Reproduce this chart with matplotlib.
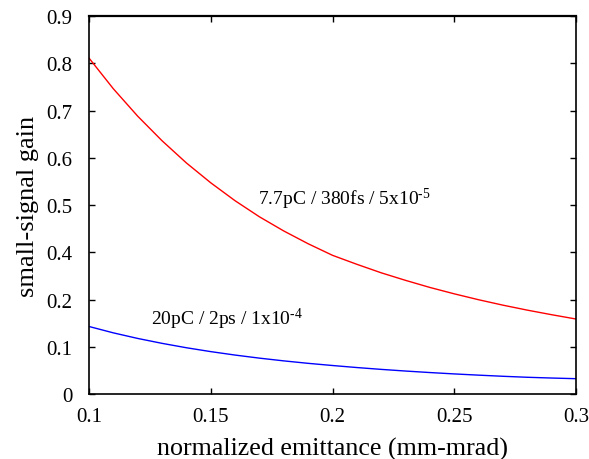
import matplotlib
matplotlib.use("Agg")
import matplotlib.pyplot as plt

plt.rcParams['font.family'] = ['Liberation Serif', 'DejaVu Serif']
plt.rcParams['mathtext.fontset'] = 'custom'
plt.rcParams['mathtext.rm'] = 'Liberation Serif'
plt.rcParams['mathtext.it'] = 'Liberation Serif:italic'

# emittance (mm-mrad)
emittance = [0.10, 0.11, 0.12, 0.13, 0.14, 0.15, 0.16, 0.17, 0.18, 0.19, 0.20,
             0.21, 0.22, 0.23, 0.24, 0.25, 0.26, 0.27, 0.28, 0.29, 0.30]
# curves given in axis-position units (tick positions 0..0.8 equally spaced)
gain_red = [0.711, 0.646, 0.588, 0.536, 0.489, 0.447, 0.409, 0.375, 0.345, 0.318, 0.2935,
            0.2745, 0.2565, 0.2405, 0.2255, 0.2120, 0.1995, 0.1880, 0.1775, 0.1678, 0.1587]
gain_blue = [0.1429, 0.1294, 0.1176, 0.1072, 0.0979, 0.0897, 0.0824, 0.0759, 0.0701, 0.0649, 0.0603,
             0.0560, 0.0521, 0.0486, 0.0454, 0.0425, 0.0399, 0.0375, 0.0354, 0.0338, 0.0324]

ytick_pos = [0, 0.1, 0.2, 0.3, 0.4, 0.5, 0.6, 0.7, 0.8]
ytick_labels = ['0', '0.1', '0.2', '0.4', '0.5', '0.6', '0.7', '0.8', '0.9']
xtick_pos = [0.1, 0.15, 0.2, 0.25, 0.3]
xtick_labels = ['0.1', '0.15', '0.2', '0.25', '0.3']

label_red = '7.7pC / 380fs / 5x10$^{\u20105}$'
label_blue = '20pC / 2ps / 1x10$^{\u20104}$'

fig = plt.figure(figsize=(5.89, 4.60), dpi=100)
ax = fig.add_axes([0.1511, 0.1413, 0.978 - 0.1511, 0.963 - 0.1413])

ax.plot(emittance, gain_red, color='#ff0000', lw=1.0)
ax.plot(emittance, gain_blue, color='#0000ff', lw=1.0)

ax.set_xlim(0.1, 0.3)
ax.set_ylim(0, 0.8)
ax.set_xticks(xtick_pos)
ax.set_xticklabels(xtick_labels)
ax.set_yticks(ytick_pos)
ax.set_yticklabels(ytick_labels)
ax.tick_params(direction='in', length=4, width=1, top=True, right=True,
               labelsize=15)
ax.tick_params(axis='x', pad=9)
ax.tick_params(axis='y', pad=12)
for s in ax.spines.values():
    s.set_linewidth(1.2)
ax.spines['top'].set_linewidth(1.6)

ax.set_xlabel('normalized emittance (mm-mrad)', fontsize=18.7, labelpad=8)
ax.set_ylabel('small-signal gain', fontsize=19, labelpad=5)

ax.text(0.1694, 0.413, label_red, fontsize=14, va='center', ha='left')
ax.text(0.1255, 0.159, label_blue, fontsize=14, va='center', ha='left')

fig.savefig('out.png', dpi=100)
